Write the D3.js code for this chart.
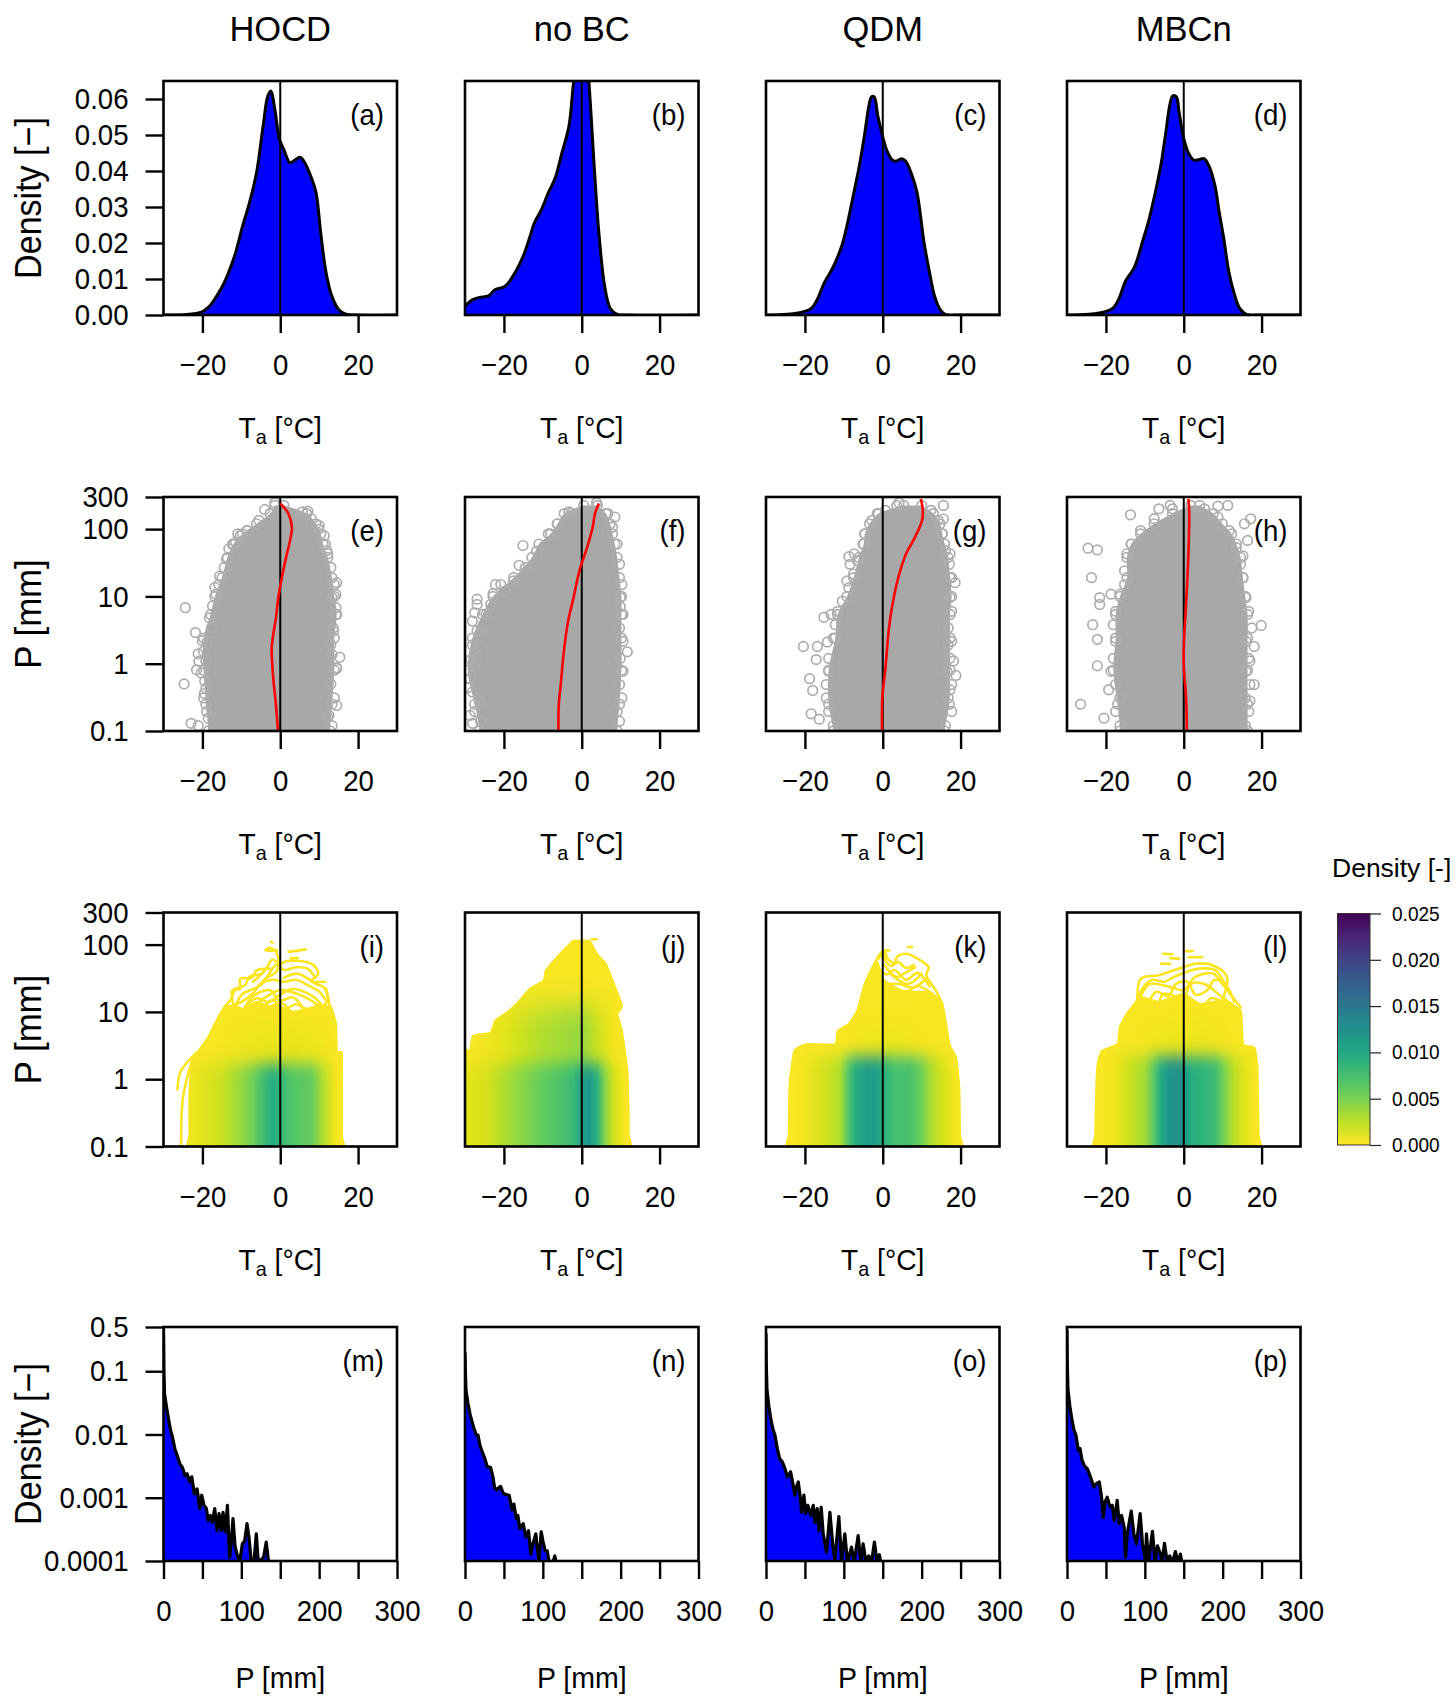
<!DOCTYPE html>
<html>
<head>
<meta charset="utf-8">
<script src="https://cdn.jsdelivr.net/npm/d3@7"></script>
<style>
  body { margin: 0; background: #fff; }
  text { font-family: "Liberation Sans", Arial, sans-serif; fill: #000; }
</style>
</head>
<body>
<svg id="chart" width="1455" height="1697"></svg>
<script>
var methods = ["HOCD", "no BC", "QDM", "MBCn"];
var letters = "abcdefghijklmnop".split("");

// row 1: [Ta, density]
var densA = [[-30,0],[-25,0.0001],[-20.1,0.0009],[-17.9,0.0028],[-16.2,0.0055],[-14.4,0.009],[-13.2,0.012],[-11.5,0.0172],[-9.7,0.0246],[-7.9,0.0312],[-6.1,0.0395],[-4.4,0.0525],[-3.2,0.0608],[-2.4,0.0622],[-1.4,0.0572],[-0.2,0.0488],[0.9,0.046],[2.5,0.0423],[3.7,0.043],[5.1,0.0438],[6.3,0.0423],[8,0.0381],[9.2,0.034],[10.4,0.0228],[11.8,0.0116],[13.3,0.0051],[15.1,0.0014],[16.9,0.0002],[20,0],[30,0]];
var densB = [[-30,0.0025],[-28.1,0.0042],[-26.3,0.0049],[-24,0.0053],[-22.2,0.0071],[-19.8,0.0079],[-17.5,0.0111],[-15.1,0.0162],[-13.3,0.0218],[-12.2,0.0255],[-10.4,0.0292],[-8.6,0.0339],[-6.8,0.0381],[-5.1,0.045],[-3.3,0.0524],[-2.1,0.0645],[-1,0.072],[0,0.076],[1,0.074],[1.8,0.0652],[3.2,0.0413],[4.4,0.0228],[5.9,0.0079],[7.3,0.0019],[9.1,0.0002],[12,0],[30,0]];
var densC = [[-30,0],[-24.5,0.0002],[-20,0.001],[-18.2,0.002],[-16.8,0.0044],[-15,0.009],[-12.8,0.0132],[-10.5,0.0193],[-9.2,0.0248],[-7.4,0.0341],[-6,0.0415],[-4.7,0.0499],[-3.6,0.0578],[-2.9,0.0606],[-2.2,0.0606],[-1.3,0.0555],[0,0.0495],[1.2,0.0453],[2.5,0.043],[3.4,0.0427],[4.8,0.0434],[5.9,0.0427],[7.5,0.0388],[8.8,0.0341],[9.7,0.0276],[10.6,0.0202],[12,0.0119],[13.3,0.0053],[14.7,0.0016],[16,0.0002],[20,0],[30,0]];
var densD = [[-30,0],[-24.4,0.0002],[-19.9,0.001],[-18.1,0.002],[-16.7,0.0044],[-14.9,0.0095],[-12.7,0.0132],[-10.4,0.0211],[-9.1,0.0258],[-7.3,0.0341],[-5.9,0.0415],[-4.6,0.0508],[-3.5,0.0588],[-2.8,0.0609],[-1.9,0.0606],[-1.2,0.0564],[0,0.049],[1.3,0.0448],[2.6,0.043],[4,0.0432],[5.3,0.0434],[6.4,0.0416],[8,0.036],[9.1,0.0286],[10.3,0.0211],[11.6,0.0119],[13,0.0058],[14.3,0.002],[16.1,0.0002],[20,0],[30,0]];

// row 2: cloud outline per precipitation level, scattered points at its edge, red mean line
var cloudP = [0.1,0.25,0.8,2.4,5.4,10,19,38,60,85,120,170,225];
var cloudLeftE = [-18.5,-19.1,-19.7,-19.7,-17.9,-16.8,-15,-13.6,-12,-9.7,-6.1,-2.6,-1.4];
var cloudRightE = [12.8,13.3,13.9,13.9,14.5,13.9,13.3,12.2,11,10.4,9.2,6.8,0.9];
var cloudLeftF = [-26.3,-27.5,-29.3,-28.1,-25.5,-22.8,-17.5,-12.8,-11,-8,-6.2,-4.5,0.5];
var cloudRightF = [9.1,9.7,10.2,10.2,10.2,10.2,9.7,9.1,8.5,7.9,7.3,6.2,4];
var cloudLeftG = [-12.7,-13.9,-13.9,-12.2,-11.6,-9.2,-7.5,-6.1,-4.9,-4.6,-3.4,-1.1,5.4];
var cloudRightG = [15.9,17.1,17.3,17.3,17.3,17.7,17.3,16.8,15.9,15.3,14.7,13,10];
var cloudLeftH = [-16.4,-17,-18.1,-17.5,-17.5,-16.4,-14.6,-14.6,-13.5,-11.1,-7.6,-2.9,1.8];
var cloudRightH = [16.4,16.4,16.4,16.4,16.4,15.8,15.2,14.6,13.5,12.3,9.9,7.6,4.1];

var pointsE = [[-24.4,6.8],[-21.8,2.9],[-20,2.2],[-21.1,1.4],[-21.5,0.81],[-24.7,0.5],[-20.9,1.09],[-19.5,0.36],[-22.9,0.13],[-21.1,0.12],[-16.8,13.6],[-15.6,20],[-12.3,59],[-10.9,85],[-8.5,95],[-4,196],[-1.4,247],[7.1,185],[10,113],[11.3,80],[11.9,48],[14.5,16],[14.3,10.7],[14.3,6.8],[13.6,3.4],[15.3,1.25],[14.5,0.85],[14.5,0.24],[12.2,0.16],
  [-18.5,0.155],[-18.9,0.195],[-19.7,0.31],[-19.1,0.43],[-19.4,0.55],[-20.3,0.73],[-19.1,1.09],[-19.7,1.53],[-18.9,2.05],[-17.7,3.4],[-18.2,4.8],[-17.4,7.2],[-16.5,10.8],[-15.8,15],[-14.4,27],[-13.8,36],[-13.2,51],[-11.5,64],[-10.3,80],[-8.5,95],[-5.5,135],
  [13.3,0.12],[12.5,0.17],[13.9,0.31],[13,0.5],[14.5,0.87],[13.3,1.37],[13,1.93],[13.7,3.05],[14.3,5.4],[13.3,9.6],[13.9,15],[13,27],[12.2,43],[11.6,60],[9.8,100],[8,143],[5.7,180]];
var pointsF = [[-15.1,57],[-16.1,29],[-22.2,15],[-20.8,15],[-22.8,11],[-26.9,9.1],[-26.9,7.6],[-27.5,5.7],[-28.1,4.3],[-26.9,3.1],[-28.1,1.9],[-28.5,1.15],[-27.5,1.4],[3.8,247],[-2.7,173],[8.5,151],[11.7,1.5],[9.9,7],[-29.3,0.44],[-28.7,0.17],[-28.1,0.13],
  [-26,0.14],[-27.5,0.195],[-26.3,0.27],[-28.1,0.38],[-28.7,0.6],[-27.5,0.87],[-26.9,1.2],[-26.3,1.9],[-25.7,3],[-24.6,5.4],[-23.4,7.6],[-19.8,12],[-17.5,17],[-14.5,27],[-11.6,47],[-8.6,85],[-6.3,120],[-3.3,180],
  [9.7,0.14],[9.1,0.195],[10.3,0.31],[9.7,0.49],[10.6,0.77],[9.9,1.2],[10.6,2.15],[9.7,3.4],[10.6,5.4],[9.9,9.6],[10.3,15],[9.7,30],[9.1,60],[7.9,107],[6.7,170]];
var pointsG = [[-20.4,1.8],[-16.8,1.8],[-17.1,1.15],[-14.2,2.1],[-15.1,4.9],[-13.3,5.4],[-18.8,0.6],[-18,0.4],[-18.4,0.18],[-16.3,0.15],[-8.7,39],[-7.3,43],[-8.4,30],[-9.2,17],[4.2,247],[-1.4,170],[15.6,225],[15.6,141],[17.3,43],[18.6,16],[18.2,1.1],[18.8,0.67],[17.3,0.41],[16.8,1.9],
  [-12.7,0.12],[-13.9,0.195],[-14.5,0.31],[-14.5,0.49],[-13.9,0.77],[-13.9,1.2],[-12.7,2.4],[-12.2,3.8],[-11.6,6],[-10.4,8.5],[-8.7,13.5],[-7.5,21.5],[-6.5,34],[-5.1,60],[-4.6,85],[-2.8,135],[0.7,190],[3.6,225],
  [16.1,0.12],[17.7,0.195],[16.8,0.31],[17.7,0.49],[16.5,0.77],[17.3,1.2],[17.7,2.15],[16.8,3.4],[17.7,6],[17.3,9.6],[17.7,19],[17.1,30],[16.1,48],[15.3,85],[14.2,135],[12.4,190]];
var pointsH = [[-13.7,163],[-24.6,52],[-22.2,49],[-23.7,19],[-26.5,0.25],[-20.5,0.155],[-22.2,0.93],[-19.3,0.41],[-22.2,2.3],[-23.4,3.8],[-21.6,7.6],[-21.6,9.6],[-18.7,10.8],[8.8,219],[11.3,225],[17.2,142],[15.6,120],[16.4,68],[15.2,40],[19.9,3.7],[18.1,1.8],[17,1.1],[18.1,0.49],[17,0.28],[-6.4,200],[-3.5,225],
  [-16.4,0.12],[-17.5,0.195],[-16.4,0.31],[-17.5,0.49],[-18.7,0.77],[-18.1,1.2],[-17.5,2.15],[-18.1,3.8],[-17.5,6],[-16.4,10.8],[-15.2,15],[-15.2,24],[-14.6,43],[-13.5,60],[-11.1,95],[-7.6,143],[-2.9,200],
  [15.8,0.12],[16.7,0.195],[15.8,0.31],[17,0.49],[16,0.77],[16.7,1.2],[16,2.15],[17.5,3.4],[16.7,6],[16,9.6],[15.2,19],[14.6,30],[13.5,53],[11.7,95],[8.8,150],[5.3,200]];

var meanE = [[-0.6,0.1],[-1.1,0.245],[-1.8,0.61],[-2.2,1.7],[-1.8,2.7],[-1.1,4.8],[-0.5,9.6],[0.4,19],[1.5,38],[2.7,76],[3,106],[2.1,170],[0,240]];
var meanF = [[-6,0.1],[-5.9,0.245],[-5.4,0.49],[-4.5,1.7],[-3.5,4.3],[-2.1,9.6],[-0.6,24],[1.4,54],[2.8,106],[3.4,170],[4.4,240]];
var meanG = [[-0.2,0.1],[-0.1,0.31],[0.7,0.87],[1.6,3.4],[2.5,7.6],[4.2,21],[6,43],[8.3,76],[10.1,135],[10.3,190],[9.8,280]];
var meanH = [[0.8,0.1],[0.6,0.31],[0,0.97],[0.1,2.4],[0.6,7.6],[1.2,43],[1.4,170],[1.2,280]];

// row 3: outline of the density field, [Ta, P]
var fieldI = [[-23.3,0.05],[-23.3,0.15],[-23.3,0.66],[-22.7,1.86],[-21.3,2.48],[-18.5,4.2],[-16.8,6.6],[-14.4,11.7],[-11.5,12.4],[-9.7,11],[-6.1,14],[-2.6,12],[0,12],[3.3,10],[6.8,11],[10.4,12.5],[13,11.7],[14.3,6.6],[14.5,2.6],[15.8,2.48],[15.8,1.5],[15.8,0.15],[15.8,0.05]];
var fieldJ = [[-30,0.05],[-30,2.48],[-28.7,2.48],[-27.9,4.4],[-23.4,4.9],[-22.2,7.4],[-19.2,9.8],[-16.3,13.9],[-13.3,22],[-9.8,29],[-9.2,41],[-6.3,65],[-3.3,98],[-2.1,113],[2,113],[3.8,73],[6.1,52],[7.9,29],[10.3,12.4],[9.1,9.3],[10.3,5.2],[11.7,1.3],[12,0.3],[12,0.15],[12,0.05]];
var fieldK = [[-24.1,0.05],[-24.1,0.15],[-23.9,0.84],[-22.7,2.6],[-19.8,3.3],[-12.2,3.3],[-11.6,5.2],[-8.7,6.6],[-6.5,10.4],[-4.6,26],[-1.6,58],[0.1,30],[5.4,20],[11.2,19.5],[15.3,13],[17.1,3.3],[18.8,2.1],[19.6,0.8],[19.8,0.15],[19.8,0.05]];
var fieldL = [[-22.7,0.05],[-22.7,0.15],[-22.2,1.5],[-21,2.6],[-17,3.3],[-16.4,5.9],[-14.6,9.3],[-11.1,16.5],[-6.4,14],[0,18.5],[4.1,13],[9.9,14.7],[14.6,10.4],[15.2,3.3],[18.1,2.95],[18.9,1.5],[19.2,0.15],[19.2,0.05]];

// row 3: single contour lines above and beside the filled part
var linesI = [
  [[-12,12.4],[-12.3,21],[-10.3,22],[-10.3,31],[-7.3,32],[-6.1,41],[-2.6,44]],
  [[-11.5,12.4],[-9.7,18.5],[-6.1,23],[-3.8,31],[-0.8,41],[-0.8,73],[-2.6,90],[-3.8,82],[-0.8,82]],
  [[-0.8,41],[0.9,55],[8,52],[9.8,37],[8,29],[11.6,28]],
  [[10.4,11.7],[12.2,14.7],[11.3,23],[9.2,26],[4.5,37],[0.9,32]],
  [[12.8,11.7],[11.8,22]],
  [[-6.1,13],[-3.8,16.5],[-0.2,21],[4.5,18.5],[8,14.7],[10.4,11.7]],
  [[-9.7,9.3],[-7.3,16.5],[-2.6,21],[-0.2,14.7],[3.3,16.5],[5.7,11.7],[6.8,9.3]],
  [[-2.6,8.8],[-2.6,11.7],[0.9,13],[3.3,7.8]],
  [[-14.4,11.7],[-12.5,16],[-11.5,22],[-9,25],[-8,33],[-5,36]],
  [[-13,12],[-10,14],[-7,19],[-5,26],[-2,30],[1,28],[4,30],[7,25],[10,20],[12,14]],
  [[-9,12],[-6,16],[-3,14],[0,18],[3,22],[6,20],[9,16],[11,12]],
  [[-8,11],[-5,11],[-2,15],[1,11],[4,13],[7,11],[10,13]],
  [[-5,25],[-3,36],[-1,50],[1,42],[4,46],[7,44],[9,32]],
  [[-7,28],[-4,41],[-2,60],[-1,55]],
  [[2.1,78],[6.6,85]],
  [[2.7,63],[4.5,63]],
  [[-2.4,110],[-2,107]],
  [[-26.4,0.7],[-25.6,1.3],[-21.5,2.48]],
  [[-25.4,0.05],[-25,0.53],[-22.7,1.86]]
];
var linesJ = [
  [[2.6,120],[3.8,120]]
];
var linesK = [
  [[-1.6,58],[-0.5,73],[3,52],[3.6,65],[6,73],[8.3,65],[11.8,46],[11.2,35],[13.6,21],[15.3,13]],
  [[0.1,52],[3.6,33],[5.4,37],[8.3,46]],
  [[0.7,26],[4.2,26],[7.7,23],[11.2,31]],
  [[1.9,37],[6.5,26],[10,37]],
  [[-0.5,73],[0.5,60],[2,48],[4,55],[6,45],[8,50]],
  [[-1,45],[1,36],[3,42],[6,30],[9,38],[12,24]],
  [[0,20],[3,22],[6,20],[9,24],[12,20],[14,16]],
  [[-1,62],[0,80],[1,70]],
  [[0.7,82],[1.6,82]],
  [[6.5,92],[7.5,92]]
];
var linesL = [
  [[-14.6,9.3],[-12.3,13],[-11.1,31],[-6.4,35],[-2.9,41],[0,46],[2.9,52],[7.6,49],[11.1,33],[9.9,14.7]],
  [[-11.1,16.5],[-8.8,26],[-2.9,23],[0,21],[2.9,33],[7.6,37],[9.9,26],[14.6,11.7]],
  [[-6.4,11.7],[-5.3,18.5],[0,16.5],[1.8,26],[5.3,26],[9.9,16.5],[13.5,11.7]],
  [[-12,15],[-10,25],[-8,30],[-5,28],[-3,32],[-1,36],[1,40],[4,44],[8,42],[10,30],[12,18]],
  [[-9,14],[-7,20],[-4,17],[-2,26],[1,28],[3,18],[6,21],[8,30],[11,24],[13,14]],
  [[-4,12],[-1,14],[1,12],[3,14],[5,12],[7,16],[10,14]],
  [[-5.3,73],[-2.9,72]],
  [[-3.5,63],[-1.2,62]],
  [[-5.8,52],[-3.5,52]],
  [[0.6,80],[2.3,80]],
  [[1.2,65],[4.7,65]]
];

// row 3: density across Ta, low band (below the block top) and middle band (up to about 10 mm)
var heatLowI = [[-30,0],[-23,0.0005],[-15,0.002],[-10,0.004],[-7,0.0055],[-5,0.0072],[-2,0.0095],[0,0.0085],[3,0.0068],[8,0.006],[11,0.003],[14,0.0005],[16,0],[30,0]];
var heatLowJ = [[-30,0.001],[-25,0.0015],[-20,0.003],[-15,0.0045],[-10,0.006],[-5,0.0072],[-2,0.0082],[0,0.0108],[2,0.0115],[4,0.009],[6,0.0045],[8,0.002],[10,0.0007],[12,0],[30,0]];
var heatLowK = [[-30,0],[-24,0],[-20,0.0005],[-14,0.002],[-11,0.003],[-9,0.0065],[-7,0.0095],[-4,0.0112],[-2,0.0112],[0,0.0095],[3,0.0075],[7,0.0072],[10,0.0055],[12,0.0035],[15,0.0018],[18,0.0005],[20,0],[30,0]];
var heatLowL = [[-30,0],[-23,0],[-18,0.0005],[-14,0.002],[-10,0.0035],[-8,0.006],[-6,0.0095],[-4,0.0118],[-2,0.0125],[0,0.012],[2,0.0095],[5,0.0088],[8,0.008],[10,0.0055],[13,0.0025],[16,0.001],[19,0],[30,0]];
var heatMidI = [[-30,0],[-15,0.0003],[-5,0.0008],[0,0.0009],[8,0.0007],[14,0.0002],[30,0]];
var heatMidJ = [[-30,0],[-20,0.001],[-15,0.002],[-10,0.003],[-5,0.0035],[0,0.004],[4,0.002],[8,0.0005],[12,0],[30,0]];
var heatMidK = [[-30,0],[-10,0.0002],[-3,0.0007],[3,0.0007],[12,0.0002],[30,0]];
var heatMidL = [[-30,0],[-12,0.0003],[-3,0.0008],[4,0.0008],[12,0.0003],[30,0]];
var heatLowTop = [1.7, 1.7, 2.2, 2.2];
var heatMidTop = [6, 12, 6, 6];

// row 4: [P, log10 density]
var tailM = [[0,-0.3],[0.3,-0.6],[0.6,-1],[1.3,-1.35],[3.8,-1.56],[6.4,-1.75],[9,-1.93],[11.5,-2.04],[14.5,-2.22],[17.5,-2.33],[20.9,-2.46],[24.4,-2.52],[27.4,-2.65],[30.3,-2.62],[33.8,-2.75],[36.3,-2.67],[39.7,-2.94],[43.2,-2.86],[46.6,-3.17],[49.1,-2.96],[52.1,-3.12],[55.1,-3.17],[57.3,-3.36],[60.3,-3.28],[62.8,-3.39],[65.8,-3.17],[68.8,-3.52],[71.4,-3.25],[74.4,-3.52],[76.5,-3.23],[79.5,-3.54],[82.1,-3.12],[85,-3.94],[87.2,-3.68],[89.3,-3.33],[91.9,-3.76],[94.4,-3.89],[97.9,-4.02],[101.3,-3.73],[104.3,-3.68],[107.3,-3.41],[109.8,-3.62],[112.8,-4.02],[116.2,-4.02],[119.2,-3.57],[121.8,-4.02],[128.6,-3.94],[132,-3.7],[135,-4.02]];
var tailN = [[0,-0.7],[0.5,-1],[1.3,-1.3],[3.8,-1.51],[6.4,-1.67],[9,-1.8],[11.5,-1.9],[14.5,-2.01],[16.7,-2.01],[19.2,-2.17],[21.8,-2.26],[25.2,-2.37],[28.6,-2.51],[32.9,-2.52],[35.9,-2.67],[38,-2.84],[41,-2.88],[43.2,-2.84],[45.7,-2.82],[49.1,-2.93],[52.6,-2.95],[56.8,-2.96],[60.3,-3.19],[62.8,-3.1],[65.8,-3.33],[67.9,-3.28],[70.5,-3.49],[74.8,-3.41],[78.2,-3.62],[81.6,-3.52],[84.6,-3.89],[87.2,-3.73],[91,-3.57],[92.7,-3.78],[94.9,-4],[97.9,-3.54],[100.4,-3.7],[103,-3.84],[105.6,-3.84],[108.1,-4.02],[112.8,-4.02],[115.4,-3.92],[117,-4.02]];
var tailO = [[0,-0.4],[0.4,-0.9],[1.3,-1.3],[3.8,-1.56],[6.4,-1.77],[9,-1.92],[11.5,-2.01],[14.5,-2.22],[17.5,-2.38],[20.9,-2.43],[24.4,-2.54],[27.4,-2.67],[31.6,-2.59],[34.6,-2.78],[37.2,-2.96],[38.9,-2.83],[41.5,-2.75],[44,-2.99],[45.7,-3.23],[48.7,-2.96],[50.9,-3.25],[53.8,-3.12],[57.3,-3.28],[60.7,-3.12],[62.8,-3.39],[65.8,-3.17],[67.9,-3.52],[70.9,-3.15],[73.5,-3.57],[77.8,-3.86],[82.1,-3.23],[85.9,-3.76],[88.5,-3.97],[93.6,-3.3],[97,-4],[101.3,-3.57],[104.7,-4.02],[109.8,-3.78],[113.2,-4.02],[118.4,-3.6],[121.8,-4.02],[124.8,-3.73],[128.6,-4.02],[132,-3.92],[135.5,-4.02],[139.3,-3.7],[142.7,-4.02],[145.7,-3.9],[147.4,-4.02]];
var tailP = [[0,-0.35],[0.4,-0.9],[1.3,-1.3],[3.8,-1.56],[6.4,-1.77],[9,-1.93],[11.5,-2.01],[14.5,-2.25],[16.7,-2.22],[19.2,-2.4],[22.6,-2.5],[26.1,-2.54],[29.5,-2.65],[34.6,-2.83],[37.2,-2.78],[41.5,-2.75],[44.4,-2.99],[46.6,-3.31],[48.7,-3.07],[51.7,-2.99],[55.1,-3.14],[58.1,-3.12],[60.7,-3.36],[64.5,-3.04],[67.1,-3.41],[70.1,-3.28],[73.5,-3.47],[75.2,-3.94],[77.4,-3.57],[82.5,-3.21],[85.9,-3.57],[89.3,-3.73],[94,-3.25],[97,-3.73],[100.9,-4],[102.1,-3.57],[104.7,-4.02],[109.8,-3.53],[113.2,-4.02],[116.2,-3.76],[120.1,-3.89],[122.2,-4.02],[125.2,-3.72],[128.6,-4],[132,-3.92],[135.5,-4.02],[139.3,-3.85],[142.3,-4.02],[145.7,-3.89],[147.4,-4.02]];

var taTicks = [-20, 0, 20];
var densTicks = [0, 0.01, 0.02, 0.03, 0.04, 0.05, 0.06];
var precipTicks = [0.1, 1, 10, 100, 300];
var tailTicks = [0.0001, 0.001, 0.01, 0.1, 0.5];
var tailXTicks = [0, 50, 100, 150, 200, 250, 300];
var legendTicks = [0, 0.005, 0.01, 0.015, 0.02, 0.025];

var panelLeft = [163.5, 465, 766, 1067];
var panelTop = [81, 497, 912.5, 1327];
var panelW = 233.5, panelH = 234;
var tickLen = 18;

var svg = d3.select("#chart");
var defs = svg.append("defs");
var densColor = function(d) { return d3.interpolateViridis(1 - d / 0.025); };

function addBlur(id, amount) {
    defs.append("filter").attr("id", id).attr("color-interpolation-filters", "sRGB")
        .attr("x", "-5%").attr("y", "-30%").attr("width", "110%").attr("height", "160%")
        .append("feGaussianBlur").attr("stdDeviation", "0 " + amount);
}
addBlur("blurLow", 8);
addBlur("blurHigh", 14);

// the reference text is narrower than the plain font, so squeeze it along its length
function squeeze(sel, ratio) {
    sel.each(function() {
        if (!this.textContent) return;
        var len = this.getComputedTextLength();
        d3.select(this).attr("textLength", len * ratio).attr("lengthAdjust", "spacingAndGlyphs");
    });
    return sel;
}

function panel(col, row) {
    var idx = row * 4 + col;
    var g = svg.append("g").attr("transform", "translate(" + panelLeft[col] + "," + panelTop[row] + ")");
    defs.append("clipPath").attr("id", "clip" + idx).append("rect")
        .attr("width", panelW).attr("height", panelH);
    return { g: g, plot: g.append("g").attr("clip-path", "url(#clip" + idx + ")"), idx: idx };
}

function finishPanel(p, col, x, y, xTicks, xLabels, yTicks, yLabels, showZero) {
    if (showZero) {
        p.g.append("line").attr("x1", x(0)).attr("x2", x(0)).attr("y1", 0).attr("y2", panelH)
            .attr("stroke", "#000").attr("stroke-width", 2);
    }
    return function() {
        p.g.append("rect").attr("width", panelW).attr("height", panelH)
            .attr("fill", "none").attr("stroke", "#000").attr("stroke-width", 2.6);

        var xAxis = p.g.append("g").attr("transform", "translate(0," + panelH + ")")
            .call(d3.axisBottom(x).tickValues(xTicks).tickSize(tickLen).tickPadding(21)
                .tickFormat(function(d) { return xLabels(d); }));
        styleAxis(xAxis);

        if (col === 0) {
            var yAxis = p.g.append("g")
                .call(d3.axisLeft(y).tickValues(yTicks).tickSize(tickLen).tickPadding(17)
                    .tickFormat(function(d) { return yLabels(d); }));
            styleAxis(yAxis);
        }

        var idx = p.idx;
        squeeze(p.g.append("text").attr("x", panelW - 13).attr("y", 44).attr("text-anchor", "end")
            .style("font-size", "30px").text("(" + letters[idx] + ")"), 0.92);
    };
}

function styleAxis(a) {
    a.select(".domain").remove();
    a.selectAll("line").attr("stroke", "#000").attr("stroke-width", 2.4);
    var labels = a.selectAll("text").style("font-size", "30px")
        .style("font-family", '"Liberation Sans", Arial, sans-serif');
    squeeze(labels, 0.92);
}

function taTitle(col, row) {
    var t = svg.append("text").attr("text-anchor", "middle")
        .attr("x", panelLeft[col] + panelW / 2).attr("y", panelTop[row] + panelH + 123)
        .style("font-size", "30px");
    t.append("tspan").text("T");
    t.append("tspan").attr("dy", 6).style("font-size", "21px").text("a");
    t.append("tspan").attr("dy", -6).text(" [°C]");
    squeeze(t, 0.94);
}

function yTitle(row, s, ratio) {
    squeeze(svg.append("text").attr("text-anchor", "middle")
        .attr("transform", "translate(41," + (panelTop[row] + panelH / 2) + ") rotate(-90)")
        .style("font-size", "37px").text(s), ratio);
}

var taLabel = function(d) { return d3.format("d")(d).replace("-", "\u2212"); };

// row 1
[densA, densB, densC, densD].forEach(function(curve, col) {
    var p = panel(col, 0);
    var x = d3.scaleLinear().domain([-30, 30]).range([0, panelW]);
    var y = d3.scaleLinear().domain([0, 0.065]).range([panelH, 0]);
    var area = d3.area().x(function(d) { return x(d[0]); }).y0(y(0)).y1(function(d) { return y(d[1]); })
        .curve(d3.curveCatmullRom.alpha(0.5));
    p.plot.append("path").datum(curve).attr("d", area).attr("fill", "#0000ff");
    p.plot.append("path").datum(curve).attr("d", area.lineY1()).attr("fill", "none")
        .attr("stroke", "#000").attr("stroke-width", 3);
    finishPanel(p, col, x, y, taTicks, taLabel, densTicks, d3.format(".2f"), true)();
    taTitle(col, 0);
});

// row 2
var cloudLefts = [cloudLeftE, cloudLeftF, cloudLeftG, cloudLeftH];
var cloudRights = [cloudRightE, cloudRightF, cloudRightG, cloudRightH];
[pointsE, pointsF, pointsG, pointsH].forEach(function(points, col) {
    var p = panel(col, 1);
    var x = d3.scaleLinear().domain([-30, 30]).range([0, panelW]);
    var y = d3.scaleLog().domain([0.1, 300]).range([panelH, 0]);
    var left = cloudLefts[col], right = cloudRights[col];
    var bottomP = y.invert(panelH + 20);
    var cloud = cloudP.map(function(v, i) { return [left[i], right[i], v]; });
    var area = d3.area().y(function(d) { return y(d[2]); })
        .x0(function(d) { return x(d[0]); }).x1(function(d) { return x(d[1]); })
        .curve(d3.curveCatmullRom);
    p.plot.append("path").datum([[left[0], right[0], bottomP]].concat(cloud))
        .attr("d", area).attr("fill", "#a8a8a8");

    var edge = [];
    cloud.forEach(function(d) { edge.push([d[0], d[2]], [d[1], d[2]]); });
    p.plot.selectAll("circle").data(edge.concat(points)).enter().append("circle")
        .attr("cx", function(d) { return x(d[0]); })
        .attr("cy", function(d) { return y(d[1]); })
        .attr("r", 4.8).attr("fill", "none").attr("stroke", "#adadad").attr("stroke-width", 1.7);

    var finish = finishPanel(p, col, x, y, taTicks, taLabel, precipTicks, d3.format("~g"), true);
    var mean = [meanE, meanF, meanG, meanH][col];
    p.g.append("path").datum(mean).attr("fill", "none").attr("stroke", "#ff0000").attr("stroke-width", 2.6)
        .attr("d", d3.line().x(function(d) { return x(d[0]); }).y(function(d) { return y(d[1]); })
            .curve(d3.curveCatmullRom));
    finish();
    taTitle(col, 1);
});

// row 3
function addGradient(id, stops, x) {
    var grad = defs.append("linearGradient").attr("id", id).attr("gradientUnits", "userSpaceOnUse")
        .attr("x1", x(-30)).attr("x2", x(30)).attr("y1", 0).attr("y2", 0);
    grad.selectAll("stop").data(stops).enter().append("stop")
        .attr("offset", function(d) { return (x(d[0]) - x(-30)) / (x(30) - x(-30)); })
        .attr("stop-color", function(d) { return densColor(d[1]); });
}

var heatLows = [heatLowI, heatLowJ, heatLowK, heatLowL];
var heatMids = [heatMidI, heatMidJ, heatMidK, heatMidL];
var fieldLines = [linesI, linesJ, linesK, linesL];
[fieldI, fieldJ, fieldK, fieldL].forEach(function(field, col) {
    var p = panel(col, 2);
    var x = d3.scaleLinear().domain([-30, 30]).range([0, panelW]);
    var y = d3.scaleLog().domain([0.1, 300]).range([panelH, 0]);
    var line = d3.line().x(function(d) { return x(d[0]); }).y(function(d) { return y(d[1]); });
    var closed = line.curve(d3.curveCardinalClosed.tension(0.6))(field);

    addGradient("low" + col, heatLows[col], x);
    addGradient("mid" + col, heatMids[col], x);
    defs.append("clipPath").attr("id", "field" + col).append("path").attr("d", closed);

    var yellow = densColor(0.0002);
    p.plot.append("path").attr("d", closed).attr("fill", yellow).attr("stroke", yellow)
        .attr("stroke-width", 2.4).attr("stroke-linejoin", "round");

    var bands = p.plot.append("g").attr("clip-path", "url(#field" + col + ")");
    var high = bands.append("g").attr("filter", "url(#blurHigh)");
    high.append("rect").attr("x", 0).attr("width", panelW)
        .attr("y", y(300) - 40).attr("height", y(heatMidTop[col]) - y(300) + 40).attr("fill", yellow);
    high.append("rect").attr("x", 0).attr("width", panelW)
        .attr("y", y(heatMidTop[col])).attr("height", y(0.1) - y(heatMidTop[col]) + 40)
        .attr("fill", "url(#mid" + col + ")");
    bands.append("g").attr("filter", "url(#blurLow)")
        .append("rect").attr("x", 0).attr("width", panelW)
        .attr("y", y(heatLowTop[col])).attr("height", y(0.1) - y(heatLowTop[col]) + 40)
        .attr("fill", "url(#low" + col + ")");

    p.plot.selectAll("path.contour").data(fieldLines[col]).enter().append("path")
        .attr("class", "contour")
        .attr("d", line.curve(d3.curveCatmullRom))
        .attr("fill", "none").attr("stroke", "#fae51f").attr("stroke-width", 2.6)
        .attr("stroke-linejoin", "round").attr("stroke-linecap", "round");

    finishPanel(p, col, x, y, taTicks, taLabel, precipTicks, d3.format("~g"), true)();
    taTitle(col, 2);
});

// row 4
[tailM, tailN, tailO, tailP].forEach(function(curve, col) {
    var p = panel(col, 3);
    var x = d3.scaleLinear().domain([0, 300]).range([0, panelW]);
    var y = d3.scaleLog().domain([0.0001, 0.5]).range([panelH, 0]);
    var yv = function(d) { return y(Math.pow(10, d[1])); };
    var area = d3.area().x(function(d) { return x(d[0]); }).y0(y(0.0001)).y1(yv);
    p.plot.append("path").datum(curve).attr("d", area).attr("fill", "#0000ff");
    p.plot.append("path").datum(curve).attr("d", area.lineY1()).attr("fill", "none")
        .attr("stroke", "#000").attr("stroke-width", 3.2).attr("stroke-linejoin", "round");
    var xLabel = function(d) { return d % 100 === 0 ? String(d) : ""; };
    finishPanel(p, col, x, y, tailXTicks, xLabel, tailTicks, d3.format("~g"), false)();
    squeeze(svg.append("text").attr("text-anchor", "middle")
        .attr("x", panelLeft[col] + panelW / 2).attr("y", panelTop[3] + panelH + 127)
        .style("font-size", "30px").text("P [mm]"), 0.95);
});

// titles
methods.forEach(function(m, col) {
    svg.append("text").attr("text-anchor", "middle")
        .attr("x", panelLeft[col] + panelW / 2).attr("y", 41)
        .style("font-size", "34.5px").text(m);
});
yTitle(0, "Density [\u2212]", 0.92);
yTitle(1, "P [mm]", 0.94);
yTitle(2, "P [mm]", 0.94);
yTitle(3, "Density [\u2212]", 0.92);

// colour bar
var legendY = d3.scaleLinear().domain([0, 0.025]).range([1145, 913.5]);
var legendGrad = defs.append("linearGradient").attr("id", "legendGrad")
    .attr("x1", 0).attr("x2", 0).attr("y1", 1).attr("y2", 0);
legendGrad.selectAll("stop").data(d3.range(0, 11)).enter().append("stop")
    .attr("offset", function(d) { return d / 10; })
    .attr("stop-color", function(d) { return d3.interpolateViridis(1 - d / 10); });
svg.append("rect").attr("x", 1337.5).attr("width", 32.5)
    .attr("y", legendY(0.025)).attr("height", legendY(0) - legendY(0.025))
    .attr("fill", "url(#legendGrad)").attr("stroke", "#333").attr("stroke-width", 1);
var legendAxis = svg.append("g").attr("transform", "translate(1370,0)")
    .call(d3.axisRight(legendY).tickValues(legendTicks).tickSize(11).tickPadding(11)
        .tickFormat(d3.format(".3f")));
legendAxis.select(".domain").remove();
legendAxis.selectAll("line").attr("stroke", "#222").attr("stroke-width", 1.2);
squeeze(legendAxis.selectAll("text").style("font-size", "20.5px")
    .style("font-family", '"Liberation Sans", Arial, sans-serif'), 0.93);
svg.append("text").attr("x", 1332).attr("y", 877).style("font-size", "26.5px").text("Density [-]");
</script>
</body>
</html>
